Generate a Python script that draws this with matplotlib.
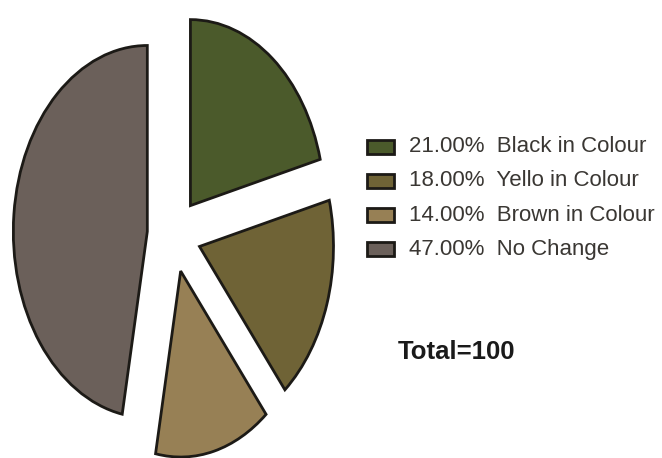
import matplotlib.pyplot as plt
from matplotlib.patches import Rectangle

W, H = 662, 458

labels = ["Black in Colour", "Yello in Colour", "Brown in Colour", "No Change"]
shares = [21.0, 18.0, 14.0, 47.0]
colors = ["#4b5a2b", "#6f6336", "#978055", "#6b605a"]
explode = [0.2, 0.2, 0.2, 0.2]
total_text = "Total=100"

FONT = ["Liberation Sans", "DejaVu Sans"]

fig = plt.figure(figsize=(W / 100, H / 100), dpi=100)

# pie centre at (174, 235) px, radii 134 x 186 px -> stretched axes
cx, cy, rx, ry = 174, 235, 134, 186
ax = fig.add_axes([0, 0, 348 / W, 1])
ax.pie(
    shares,
    colors=colors,
    explode=explode,
    startangle=90,
    counterclock=False,
    wedgeprops=dict(edgecolor="#1c1a16", linewidth=2.0),
)
ax.set_aspect("auto")
ax.set_xlim(-cx / rx, (348 - cx) / rx)
ax.set_ylim(-(H - cy) / ry, cy / ry)
ax.axis("off")

# legend drawn by hand
row_y = [147, 181, 215, 249]
for y, lab, val, col in zip(row_y, labels, shares, colors):
    fig.add_artist(
        Rectangle(
            (367 / W, 1 - (y + 7) / H), 27 / W, 14 / H,
            transform=fig.transFigure, facecolor=col,
            edgecolor="#1c1a16", linewidth=2.0,
        )
    )
    fig.text(
        409 / W, 1 - y / H, f"{val:.2f}%  {lab}",
        ha="left", va="center", fontsize=16, color="#3a3733", family=FONT,
    )

fig.text(
    398 / W, 1 - 352 / H, total_text,
    ha="left", va="center", fontsize=18.5, fontweight="bold",
    color="#1a1a1a", family=FONT,
)

fig.savefig("out.png", dpi=100)
